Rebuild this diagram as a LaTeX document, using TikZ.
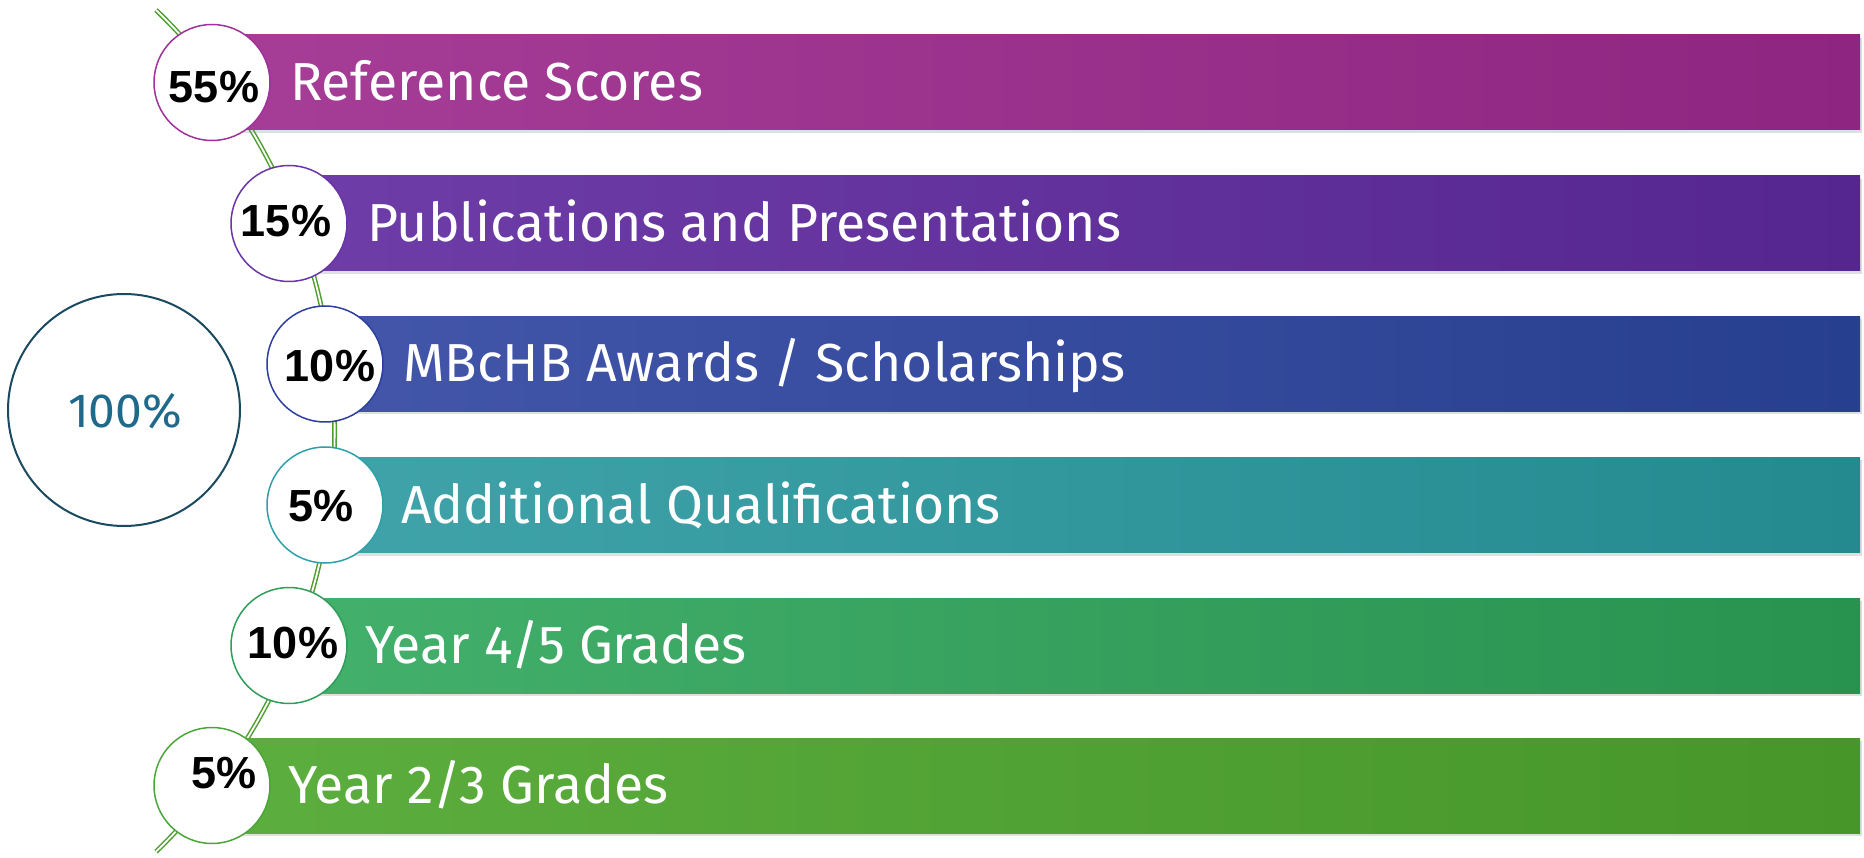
\documentclass[tikz,border=0pt]{standalone}
\usepackage{fontspec}
\setmainfont{Fira Sans}
\newfontfamily\pctfont{Liberation Sans}
\usetikzlibrary{shadows}
\definecolor{b1l}{HTML}{A63E98}\definecolor{b1r}{HTML}{8E2681}\definecolor{c1c}{HTML}{A0309A}
\definecolor{b2l}{HTML}{6E3DA8}\definecolor{b2r}{HTML}{552590}\definecolor{c2c}{HTML}{6A35A8}
\definecolor{b3l}{HTML}{4356AA}\definecolor{b3r}{HTML}{273F8F}\definecolor{c3c}{HTML}{2D3E9E}
\definecolor{b4l}{HTML}{40A3AA}\definecolor{b4r}{HTML}{248A90}\definecolor{c4c}{HTML}{30A0A8}
\definecolor{b5l}{HTML}{43B06C}\definecolor{b5r}{HTML}{28924F}\definecolor{c5c}{HTML}{2E9E58}
\definecolor{b6l}{HTML}{5CAE3E}\definecolor{b6r}{HTML}{46962A}\definecolor{c6c}{HTML}{4CA53A}
\definecolor{arcgreen}{HTML}{4E9E2E}
\definecolor{bigc}{HTML}{1A4A60}
\definecolor{bigt}{HTML}{1F6A8A}
\tikzset{
  barbox/.style={rectangle, anchor=west, minimum width=1648pt, minimum height=95pt, inner sep=0pt,
     drop shadow={shadow xshift=2pt, shadow yshift=-3pt, opacity=0.25}},
  pctcirc/.style={circle, fill=white, line width=1.5pt, minimum size=116pt, inner sep=0pt},
  bartext/.style={anchor=base west, inner sep=0pt, text=white, font=\fontsize{53.5}{60}\selectfont},
  pcttext/.style={anchor=base, inner sep=0pt, text=black, font=\pctfont\bfseries\fontsize{45}{50}\selectfont},
  greenarc/.style={draw=arcgreen, line width=1.5pt, double=white, double distance=1.8pt}
}
\begin{document}
\begin{tikzpicture}[x=1pt,y=-1pt]
\useasboundingbox (0,0) rectangle (1864,858);
% arc
\coordinate (arctop) at (156,10);
\draw[greenarc] (arctop) arc[start angle=46, end angle=-46, radius=585pt];
% bars
\node[barbox, left color=b1l, right color=b1r] (b1) at (212,82.5) {};
\node[barbox, left color=b2l, right color=b2r, minimum width=1571pt] (b2) at (289,223.5) {};
\node[barbox, left color=b3l, right color=b3r, minimum width=1535pt] (b3) at (325,364) {};
\node[barbox, left color=b4l, right color=b4r, minimum width=1535pt] (b4) at (325,505) {};
\node[barbox, left color=b5l, right color=b5r, minimum width=1571pt] (b5) at (289,645.5) {};
\node[barbox, left color=b6l, right color=b6r] (b6) at (212,785.5) {};
% bar texts
\node[bartext] (t1) at (290,100.5) {Reference Scores};
\node[bartext] (t2) at (367,241.5) {Publications and Presentations};
\node[bartext] (t3) at (403,382) {MBcHB Awards / Scholarships};
\node[bartext] (t4) at (401,523) {Additional Qualifications};
\node[bartext] (t5) at (365,663.5) {Year 4/5 Grades};
\node[bartext] (t6) at (288,803.5) {Year 2/3 Grades};
% circles
\node[pctcirc, draw=c1c] (c1) at (212,82.5) {};
\node[pctcirc, draw=c2c] (c2) at (289,223.5) {};
\node[pctcirc, draw=c3c] (c3) at (325,364) {};
\node[pctcirc, draw=c4c] (c4) at (325,505) {};
\node[pctcirc, draw=c5c] (c5) at (289,645.5) {};
\node[pctcirc, draw=c6c] (c6) at (212,785.5) {};
% percentages
\node[pcttext] (p1) at (214,103) {55\%};
\node[pcttext] (p2) at (286,237) {15\%};
\node[pcttext] (p3) at (330,382) {10\%};
\node[pcttext] (p4) at (321,521) {5\%};
\node[pcttext] (p5) at (293,658) {10\%};
\node[pcttext] (p6) at (224,788) {5\%};
% total
\node[circle, draw=bigc, line width=2pt, minimum size=232pt, inner sep=0pt] (total) at (124,410) {};
\node[anchor=base, inner sep=0pt, text=bigt, font=\fontsize{48}{52}\selectfont] (totaltext) at (125,427.5) {100\%};
\end{tikzpicture}
\end{document}
